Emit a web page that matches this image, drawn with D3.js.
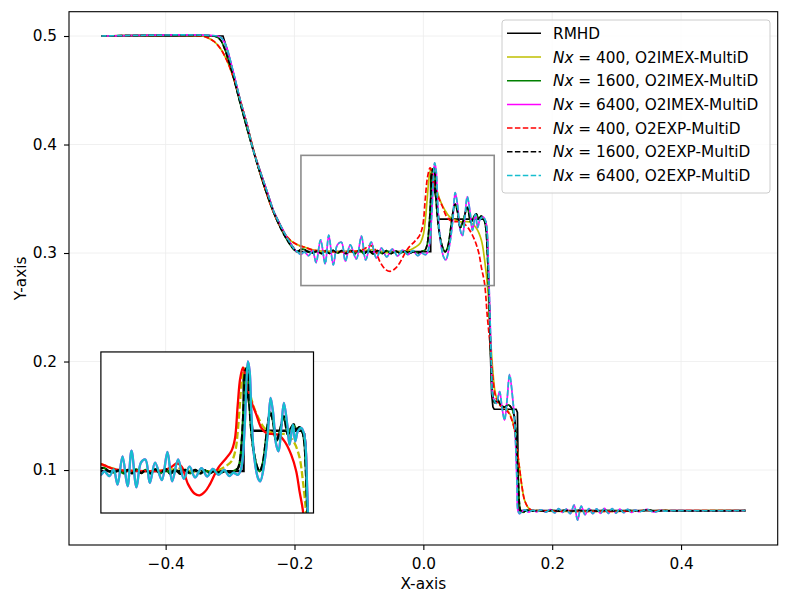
<!DOCTYPE html>
<html>
<head>
<meta charset="utf-8">
<script src="https://cdn.jsdelivr.net/npm/d3@7"></script>
<style>
body { margin: 0; background: #fff; }
text { font-family: "DejaVu Sans", sans-serif; fill: #000; }
</style>
</head>
<body>
<div id="chart"></div>
<script>
const width = 790;
const height = 606;
const margin = {top: 11.7, right: 12.3, bottom: 61, left: 69};
const fontSize = "15.3px";

// tick values
const xTicks = [-0.4, -0.2, 0.0, 0.2, 0.4];
const yTicks = [0.1, 0.2, 0.3, 0.4, 0.5];

// exact RMHD solution
const rmhd = [
  [-0.5, 0.5], [-0.311, 0.5], [-0.3043, 0.4871], [-0.2941, 0.4641], [-0.2838, 0.4394],
  [-0.2734, 0.418], [-0.2632, 0.3934], [-0.2529, 0.3749], [-0.2425, 0.3565], [-0.2323, 0.3381],
  [-0.2168, 0.3196], [-0.2064, 0.3089], [-0.1972, 0.3012], [0.0114, 0.3012], [0.0114, 0.374],
  [0.016, 0.362], [0.020, 0.349], [0.024, 0.3313], [0.093, 0.3313], [0.097, 0.329],
  [0.099, 0.32], [0.1, 0.30], [0.102, 0.26], [0.104, 0.21], [0.106, 0.17], [0.108, 0.158],
  [0.11, 0.156], [0.144, 0.156], [0.146, 0.153], [0.148, 0.0625], [0.5, 0.0625]
];

// Nx = 400, O2IMEX-MultiD
const imex400 = [
  [-0.5, 0.5], [-0.345, 0.5], [-0.335, 0.4985], [-0.325, 0.495], [-0.315, 0.4885],
  [-0.305, 0.4775], [-0.295, 0.462], [-0.285, 0.4425], [-0.275, 0.421], [-0.265, 0.398],
  [-0.255, 0.377], [-0.245, 0.358], [-0.235, 0.341], [-0.225, 0.3275], [-0.215, 0.3175],
  [-0.205, 0.311], [-0.195, 0.3075], [-0.185, 0.3055], [-0.175, 0.3035], [-0.165, 0.3022],
  [-0.15, 0.3015], [-0.13, 0.3012], [-0.11, 0.3015], [-0.09, 0.3025], [-0.08, 0.303],
  [-0.07, 0.302], [-0.06, 0.3005], [-0.05, 0.3005], [-0.04, 0.301], [-0.03, 0.3015],
  [-0.02, 0.303], [-0.012, 0.3055], [-0.005, 0.309], [0.0, 0.317], [0.003, 0.33],
  [0.006, 0.35], [0.009, 0.37], [0.012, 0.378], [0.016, 0.372], [0.02, 0.36],
  [0.0258, 0.3489], [0.033, 0.340], [0.0412, 0.333], [0.0566, 0.3289], [0.072, 0.3285],
  [0.0823, 0.3228], [0.09, 0.312], [0.0951, 0.2936], [0.1002, 0.265], [0.104, 0.225],
  [0.108, 0.19], [0.112, 0.17], [0.118, 0.161], [0.125, 0.158], [0.132, 0.154],
  [0.138, 0.146], [0.1415, 0.137], [0.145, 0.122], [0.149, 0.103], [0.153, 0.085],
  [0.157, 0.0724], [0.162, 0.066], [0.167, 0.0633], [0.175, 0.0626], [0.34, 0.0625],
  [0.347, 0.0632], [0.355, 0.0622], [0.365, 0.0625], [0.5, 0.0625]
];

// Nx = 400, O2EXP-MultiD (has the dip before the contact)
const exp400 = [
  [-0.5, 0.5], [-0.345, 0.5], [-0.335, 0.4985], [-0.325, 0.495], [-0.315, 0.4885],
  [-0.305, 0.4775], [-0.295, 0.462], [-0.285, 0.4425], [-0.275, 0.421], [-0.265, 0.398],
  [-0.255, 0.377], [-0.245, 0.358], [-0.235, 0.341], [-0.225, 0.3275], [-0.215, 0.3175],
  [-0.205, 0.311], [-0.195, 0.3075], [-0.185, 0.3055], [-0.17, 0.3025], [-0.15, 0.3015],
  [-0.12, 0.3012], [-0.1, 0.302], [-0.09, 0.3045], [-0.083, 0.307], [-0.076, 0.3045],
  [-0.067, 0.2915], [-0.058, 0.2845], [-0.0506, 0.2832], [-0.043, 0.286], [-0.0365, 0.2911],
  [-0.0247, 0.3035], [-0.013, 0.311], [-0.006, 0.316], [-0.001, 0.325], [0.003, 0.350],
  [0.0065, 0.370], [0.0105, 0.3785], [0.0152, 0.3681], [0.0222, 0.3532], [0.0293, 0.3433],
  [0.0363, 0.3334], [0.0433, 0.3296], [0.0504, 0.3289], [0.0598, 0.3284], [0.0692, 0.3234],
  [0.0785, 0.3135], [0.0856, 0.3011], [0.0903, 0.2861], [0.095, 0.272], [0.0995, 0.24],
  [0.1039, 0.2136], [0.108, 0.185], [0.112, 0.168], [0.118, 0.16], [0.125, 0.157],
  [0.132, 0.153], [0.138, 0.145], [0.1415, 0.1369], [0.145, 0.122], [0.149, 0.103],
  [0.153, 0.085], [0.157, 0.0724], [0.162, 0.066], [0.167, 0.0633], [0.175, 0.0626],
  [0.34, 0.0625], [0.347, 0.0632], [0.355, 0.0622], [0.365, 0.0625], [0.5, 0.0625]
];

// Nx = 1600 (IMEX and EXP lie on top of each other)
const imex1600 = [
  [-0.5, 0.5], [-0.326, 0.5], [-0.32, 0.499], [-0.314, 0.4955], [-0.308, 0.4875],
  [-0.302, 0.4765], [-0.295, 0.4625], [-0.285, 0.4395], [-0.275, 0.4175], [-0.265, 0.3965],
  [-0.255, 0.3765], [-0.245, 0.358], [-0.235, 0.3415], [-0.225, 0.3272], [-0.215, 0.3155],
  [-0.207, 0.3078], [-0.2, 0.3028], [-0.195, 0.3015], [-0.19, 0.3033], [-0.185, 0.3035],
  [-0.18, 0.3015], [-0.172, 0.3002], [-0.165, 0.3018], [-0.158, 0.2995], [-0.152, 0.3022],
  [-0.146, 0.2996], [-0.14, 0.3025], [-0.133, 0.2998], [-0.127, 0.3022], [-0.12, 0.2995],
  [-0.113, 0.3025], [-0.106, 0.2995], [-0.099, 0.3028], [-0.092, 0.2993], [-0.085, 0.3025],
  [-0.078, 0.2992], [-0.071, 0.3022], [-0.064, 0.2995], [-0.057, 0.3022], [-0.05, 0.2995],
  [-0.043, 0.3018], [-0.036, 0.2998], [-0.029, 0.3015], [-0.022, 0.2998], [-0.015, 0.3012],
  [-0.008, 0.3002], [-0.002, 0.3015], [0.003, 0.303], [0.006, 0.308], [0.009, 0.325],
  [0.012, 0.355], [0.0145, 0.377], [0.0165, 0.378], [0.019, 0.36], [0.0211, 0.3383],
  [0.025, 0.318], [0.03, 0.305], [0.034, 0.3011], [0.038, 0.306], [0.043, 0.325],
  [0.047, 0.341], [0.0494, 0.345], [0.053, 0.338], [0.0574, 0.3234], [0.062, 0.330],
  [0.0682, 0.342], [0.0738, 0.3284], [0.078, 0.333], [0.082, 0.336], [0.086, 0.332],
  [0.09, 0.334], [0.094, 0.331], [0.097, 0.323], [0.099, 0.305], [0.101, 0.275],
  [0.103, 0.24], [0.105, 0.2], [0.108, 0.168], [0.111, 0.162], [0.115, 0.165],
  [0.12, 0.16], [0.126, 0.158], [0.132, 0.16], [0.137, 0.157], [0.141, 0.15],
  [0.144, 0.13], [0.147, 0.095], [0.149, 0.07], [0.151, 0.0625], [0.155, 0.061],
  [0.16, 0.0628], [0.17, 0.0622], [0.18, 0.0627], [0.19, 0.0621], [0.2, 0.0628],
  [0.21, 0.0621], [0.22, 0.0628], [0.23, 0.0621], [0.24, 0.0628], [0.25, 0.0622],
  [0.26, 0.0627], [0.27, 0.0622], [0.28, 0.0627], [0.3, 0.0623], [0.32, 0.0626],
  [0.34, 0.0624], [0.347, 0.0634], [0.353, 0.0628], [0.36, 0.0619], [0.37, 0.0626],
  [0.38, 0.0624], [0.5, 0.0625]
];
const exp1600 = imex1600;

// Nx = 6400 (IMEX and EXP lie on top of each other)
const imex6400 = [
  [-0.5, 0.5], [-0.32, 0.5], [-0.314, 0.4985], [-0.309, 0.4945], [-0.304, 0.487],
  [-0.294, 0.4645], [-0.284, 0.4405], [-0.274, 0.419], [-0.264, 0.395], [-0.253, 0.3745],
  [-0.2425, 0.3565], [-0.2323, 0.3383], [-0.2168, 0.3198], [-0.2064, 0.309], [-0.2, 0.3032],
  [-0.195, 0.3008], [-0.19, 0.2985], [-0.185, 0.301], [-0.178, 0.2975], [-0.172, 0.3025],
  [-0.1665, 0.2911], [-0.1595, 0.3122], [-0.1524, 0.2899], [-0.1468, 0.3165], [-0.1398, 0.2891],
  [-0.1335, 0.3075], [-0.1271, 0.3098], [-0.121, 0.2924], [-0.1135, 0.3075], [-0.104, 0.2945],
  [-0.0961, 0.3155], [-0.0895, 0.2936], [-0.081, 0.310], [-0.073, 0.2955], [-0.065, 0.3045],
  [-0.057, 0.2965], [-0.048, 0.3035], [-0.040, 0.2972], [-0.032, 0.3028], [-0.024, 0.2985],
  [-0.016, 0.3022], [-0.009, 0.2975], [-0.003, 0.300], [0.0035, 0.2985], [0.0081, 0.3035],
  [0.0128, 0.3334], [0.0152, 0.3657], [0.0175, 0.383], [0.0199, 0.3756], [0.0222, 0.3458],
  [0.026, 0.3135], [0.0316, 0.2961], [0.0349, 0.2936], [0.041, 0.3085], [0.0457, 0.3309],
  [0.0494, 0.3557], [0.0527, 0.3458], [0.0574, 0.3209], [0.0607, 0.316], [0.0645, 0.3334],
  [0.0682, 0.352], [0.0729, 0.3359], [0.0762, 0.3209], [0.0809, 0.3359], [0.0842, 0.3234],
  [0.0879, 0.3309], [0.0926, 0.3334], [0.0964, 0.3296], [0.0987, 0.3209], [0.1006, 0.2961],
  [0.102, 0.27], [0.104, 0.23], [0.106, 0.19], [0.108, 0.168], [0.1132, 0.1615],
  [0.1183, 0.1722], [0.122, 0.158], [0.126, 0.146], [0.13, 0.165], [0.1338, 0.188],
  [0.1389, 0.1645], [0.1415, 0.146], [0.1435, 0.12], [0.1455, 0.085], [0.1466, 0.0636],
  [0.149, 0.0598], [0.153, 0.0618], [0.158, 0.0632], [0.163, 0.0612], [0.17, 0.063],
  [0.176, 0.0615], [0.183, 0.0633], [0.19, 0.0612], [0.197, 0.0636], [0.204, 0.0605],
  [0.21, 0.0645], [0.216, 0.061], [0.222, 0.064], [0.228, 0.0598], [0.234, 0.0677],
  [0.2394, 0.0539], [0.245, 0.0668], [0.251, 0.0588], [0.257, 0.0645], [0.263, 0.0598],
  [0.269, 0.0642], [0.275, 0.0601], [0.281, 0.0646], [0.287, 0.06], [0.293, 0.0644],
  [0.299, 0.0603], [0.305, 0.0641], [0.311, 0.0606], [0.317, 0.0637], [0.323, 0.061],
  [0.329, 0.063], [0.335, 0.0616], [0.341, 0.0625], [0.347, 0.0638], [0.353, 0.0622],
  [0.36, 0.0614], [0.367, 0.0628], [0.375, 0.0622], [0.385, 0.0626], [0.4, 0.0625],
  [0.5, 0.0625]
];
const exp6400 = imex6400;

const legendLabels = [
  {nx: null, text: "RMHD"},
  {nx: "400", text: "O2IMEX-MultiD"},
  {nx: "1600", text: "O2IMEX-MultiD"},
  {nx: "6400", text: "O2IMEX-MultiD"},
  {nx: "400", text: "O2EXP-MultiD"},
  {nx: "1600", text: "O2EXP-MultiD"},
  {nx: "6400", text: "O2EXP-MultiD"}
];

// zoom window shown in the inset
const zoomX = [-0.19, 0.11];
const zoomY = [0.27, 0.39];

const series = [
  {data: rmhd, color: "#000000", dash: null, smooth: false, insetDash: null},
  {data: imex400, color: "#bfbf00", dash: null, smooth: true, insetDash: "7,3"},
  {data: imex1600, color: "#008000", dash: null, smooth: true, insetDash: null},
  {data: imex6400, color: "#ff00ff", dash: null, smooth: true, insetDash: null},
  {data: exp400, color: "#ff0000", dash: "5.5,2.4", smooth: true, insetDash: null},
  {data: exp1600, color: "#000000", dash: "5.5,2.4", smooth: true, insetDash: "7,3"},
  {data: exp6400, color: "#17becf", dash: "5.5,2.4", smooth: true, insetDash: null}
];
series.forEach((s, i) => s.label = legendLabels[i]);

const svg = d3.select("#chart").append("svg")
    .attr("width", width)
    .attr("height", height)
    .attr("viewBox", [0, 0, width, height]);

const x = d3.scaleLinear().domain([-0.55, 0.55]).range([margin.left, width - margin.right]);
const y = d3.scaleLinear().domain([0.0309, 0.5224]).range([height - margin.bottom, margin.top]);

// faint grid
svg.append("g").selectAll("line")
    .data(xTicks).enter().append("line")
    .attr("x1", d => x(d)).attr("x2", d => x(d))
    .attr("y1", margin.top).attr("y2", height - margin.bottom)
    .attr("stroke", "#ececec").attr("stroke-width", 0.8);
svg.append("g").selectAll("line")
    .data(yTicks).enter().append("line")
    .attr("y1", d => y(d)).attr("y2", d => y(d))
    .attr("x1", margin.left).attr("x2", width - margin.right)
    .attr("stroke", "#ececec").attr("stroke-width", 0.8);

// axes
const xAxis = svg.append("g")
    .attr("transform", `translate(0,${height - margin.bottom})`)
    .call(d3.axisBottom(x).tickValues(xTicks).tickFormat(d3.format(".1f"))
        .tickSize(5).tickSizeOuter(0).tickPadding(8));
const yAxis = svg.append("g")
    .attr("transform", `translate(${margin.left},0)`)
    .call(d3.axisLeft(y).tickValues(yTicks).tickFormat(d3.format(".1f"))
        .tickSize(5).tickSizeOuter(0).tickPadding(7));
[xAxis, yAxis].forEach(a => {
  a.select(".domain").remove();
  a.selectAll("line").attr("stroke", "#000").attr("stroke-width", 1.1);
  a.selectAll("text").attr("font-size", fontSize).attr("font-family", "DejaVu Sans").attr("fill", "#000");
});

// lines in main plot
const lineFor = (sx, sy, smooth) => d3.line()
    .x(d => sx(d[0])).y(d => sy(d[1]))
    .curve(smooth ? d3.curveCatmullRom.alpha(0.5) : d3.curveLinear);

svg.append("clipPath").attr("id", "mainClip")
  .append("rect")
    .attr("x", margin.left).attr("y", margin.top)
    .attr("width", width - margin.left - margin.right)
    .attr("height", height - margin.top - margin.bottom);

const main = svg.append("g").attr("clip-path", "url(#mainClip)");
series.forEach(s => {
  main.append("path")
      .datum(s.data)
      .attr("fill", "none")
      .attr("stroke", s.color)
      .attr("stroke-width", 1.7)
      .attr("stroke-dasharray", s.dash)
      .attr("d", lineFor(x, y, s.smooth));
});

// rectangle marking the zoomed window
svg.append("rect")
    .attr("x", x(zoomX[0])).attr("y", y(zoomY[1]))
    .attr("width", x(zoomX[1]) - x(zoomX[0]))
    .attr("height", y(zoomY[0]) - y(zoomY[1]))
    .attr("fill", "none").attr("stroke", "#8c8c8c").attr("stroke-width", 1.6);

// inset axes
const plotW = width - margin.left - margin.right;
const plotH = height - margin.top - margin.bottom;
const inset = {left: margin.left + 0.045 * plotW, top: margin.top + plotH * (1 - 0.06 - 0.302),
               w: 0.30 * plotW, h: 0.302 * plotH};
const xi = d3.scaleLinear().domain(zoomX).range([inset.left, inset.left + inset.w]);
const yi = d3.scaleLinear().domain(zoomY).range([inset.top + inset.h, inset.top]);

svg.append("rect")
    .attr("x", inset.left).attr("y", inset.top)
    .attr("width", inset.w).attr("height", inset.h)
    .attr("fill", "#fff");
svg.append("clipPath").attr("id", "insetClip")
  .append("rect")
    .attr("x", inset.left).attr("y", inset.top)
    .attr("width", inset.w).attr("height", inset.h);
const insetG = svg.append("g").attr("clip-path", "url(#insetClip)");
series.forEach(s => {
  insetG.append("path")
      .datum(s.data)
      .attr("fill", "none")
      .attr("stroke", s.color)
      .attr("stroke-width", 2.3)
      .attr("stroke-dasharray", s.insetDash)
      .attr("d", lineFor(xi, yi, s.smooth));
});
svg.append("rect")
    .attr("x", inset.left).attr("y", inset.top)
    .attr("width", inset.w).attr("height", inset.h)
    .attr("fill", "none").attr("stroke", "#000").attr("stroke-width", 1.2);

// frame
svg.append("rect")
    .attr("x", margin.left).attr("y", margin.top)
    .attr("width", plotW).attr("height", plotH)
    .attr("fill", "none").attr("stroke", "#000").attr("stroke-width", 1.1);

// axis labels
svg.append("text")
    .attr("x", margin.left + plotW / 2).attr("y", 589)
    .attr("text-anchor", "middle").attr("font-size", fontSize)
    .text("X-axis");
svg.append("text")
    .attr("transform", `translate(26,${margin.top + plotH / 2}) rotate(-90)`)
    .attr("text-anchor", "middle").attr("font-size", fontSize)
    .text("Y-axis");

// legend
const legend = svg.append("g");
legend.append("rect")
    .attr("x", 502).attr("y", 20).attr("width", 268).attr("height", 173).attr("rx", 3)
    .attr("fill", "#fff").attr("fill-opacity", 0.8)
    .attr("stroke", "#cccccc").attr("stroke-width", 1);
const rows = legend.selectAll("g.row")
    .data(series).enter().append("g")
    .attr("class", "row")
    .attr("transform", (d, i) => `translate(0,${33.3 + i * 23.7})`);
rows.append("line")
    .attr("x1", 507).attr("x2", 541)
    .attr("stroke", d => d.color).attr("stroke-width", 1.5)
    .attr("stroke-dasharray", d => d.dash);
const labels = rows.append("text")
    .attr("x", 553).attr("dy", "0.36em").attr("font-size", fontSize);
labels.each(function(d) {
  const t = d3.select(this);
  if (d.label.nx === null) {
    t.text(d.label.text);
  } else {
    t.append("tspan").attr("font-style", "italic").text("Nx");
    t.append("tspan").text(" = " + d.label.nx + ", " + d.label.text);
  }
});
</script>
</body>
</html>
